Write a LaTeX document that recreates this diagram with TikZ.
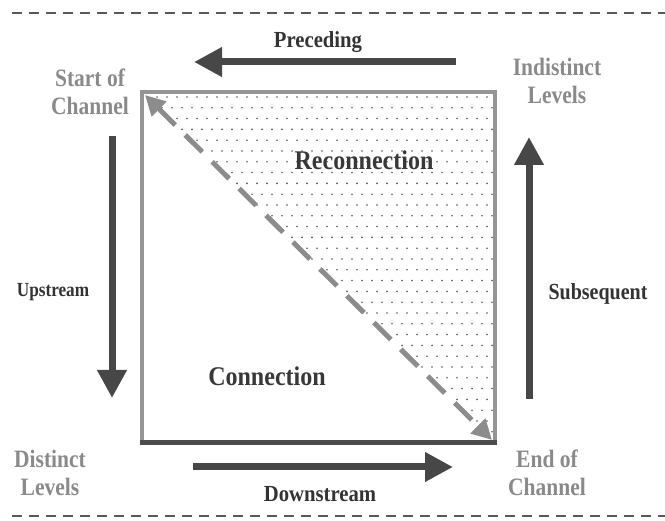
\documentclass[tikz,border=0pt]{standalone}
\usepackage{fontspec}
\setmainfont{Liberation Serif}
\usetikzlibrary{arrows.meta}
\definecolor{lblgray}{HTML}{8A8A8A}
\definecolor{darkarr}{HTML}{474747}
\definecolor{edgegray}{HTML}{959595}
\definecolor{diaggray}{HTML}{8C8C8C}
\definecolor{dotgray}{HTML}{5A5A5A}
\newcommand{\condtxt}[2]{\scalebox{#1}[1]{#2}}
\newcommand{\twolines}[2]{\begin{tabular}{@{}c@{}}#1\\[1.5pt]#2\end{tabular}}
\begin{document}
\begin{tikzpicture}[x=1pt,y=-1pt,
  graylbl/.style={font=\fontsize{25}{27}\selectfont\bfseries, text=lblgray, align=center, inner sep=0pt},
  darklbl/.style={font=\fontsize{23}{26}\selectfont\bfseries, text=black!80, inner sep=0pt},
  biglbl/.style={font=\fontsize{27}{30}\selectfont\bfseries, text=black!78, inner sep=0pt},
  bigarrow/.style={draw=darkarr, line width=7pt, -{Triangle[width=28pt,length=28pt]}, color=darkarr},
  frameline/.style={draw=black!65, line width=1.2pt, dash pattern=on 10pt off 7pt}
]
\useasboundingbox (0,0) rectangle (665,521);

% square corners
\coordinate (TL) at (142,92);
\coordinate (TR) at (495,92);
\coordinate (BR) at (495,443);
\coordinate (BL) at (142,443);

% dashed frame lines
\coordinate (ft1) at (12,13);
\coordinate (ft2) at (665,13);
\coordinate (fb1) at (12,516);
\coordinate (fb2) at (665,516);
\draw[frameline] (ft1) -- (ft2);
\draw[frameline] (fb1) -- (fb2);

% stippled triangle
\begin{scope}
  \clip (TL) -- (TR) -- (BR) -- cycle;
  \foreach \r in {0,...,32} {
    \pgfmathsetmacro{\yy}{97+\r*10.8}
    \pgfmathsetmacro{\off}{mod(\r,2)*5}
    \foreach \c in {0,...,35} {
      \fill[dotgray] (147+\off+\c*10,\yy) circle (0.9pt);
    }
  }
\end{scope}

% square border
\draw[edgegray, line width=4pt, line join=miter] (BL) -- (TL) -- (TR) -- (BR);
\draw[black!70, line width=5pt] ([xshift=-2pt]BL) -- ([xshift=2pt]BR);

% diagonal dashed double arrow
\coordinate (d1) at (145,95);
\coordinate (d2) at (492,440);
\draw[diaggray, line width=5pt, dash pattern=on 24pt off 14pt,
  {Triangle[width=20pt,length=20pt]}-{Triangle[width=20pt,length=20pt]}] (d1) -- (d2);

% corner labels
\node[graylbl] (start) at (90,95) {\condtxt{0.86}{\twolines{Start of}{Channel}}};
\node[graylbl] (indist) at (557,84) {\condtxt{0.86}{\twolines{Indistinct}{Levels}}};
\node[graylbl] (distinct) at (50,476) {\condtxt{0.86}{\twolines{Distinct}{Levels}}};
\node[graylbl] (endch) at (547,476) {\condtxt{0.86}{\twolines{End of}{Channel}}};

% region labels
\node[biglbl] (recon) at (364,160) {\condtxt{0.89}{Reconnection}};
\node[biglbl] (conn) at (267,376) {\condtxt{0.89}{Connection}};

% direction arrows
\coordinate (p1) at (456,62);
\coordinate (p2) at (194,62);
\draw[bigarrow] (p1) -- (p2);
\node[darklbl] (prec) at (318,42) {\condtxt{0.9}{Preceding}};

\coordinate (dn1) at (193,467);
\coordinate (dn2) at (453,467);
\draw[bigarrow] (dn1) -- (dn2);
\node[darklbl] (down) at (320,494) {\condtxt{0.9}{Downstream}};

\coordinate (u1) at (112,136);
\coordinate (u2) at (112,398);
\draw[bigarrow] (u1) -- (u2);
\node[darklbl, font=\fontsize{20}{22}\selectfont\bfseries] (up) at (53,292) {\condtxt{0.86}{Upstream}};

\coordinate (s1) at (529,399);
\coordinate (s2) at (529,137);
\draw[bigarrow] (s1) -- (s2);
\node[darklbl] (subs) at (598,294) {\condtxt{0.87}{Subsequent}};
\end{tikzpicture}
\end{document}
